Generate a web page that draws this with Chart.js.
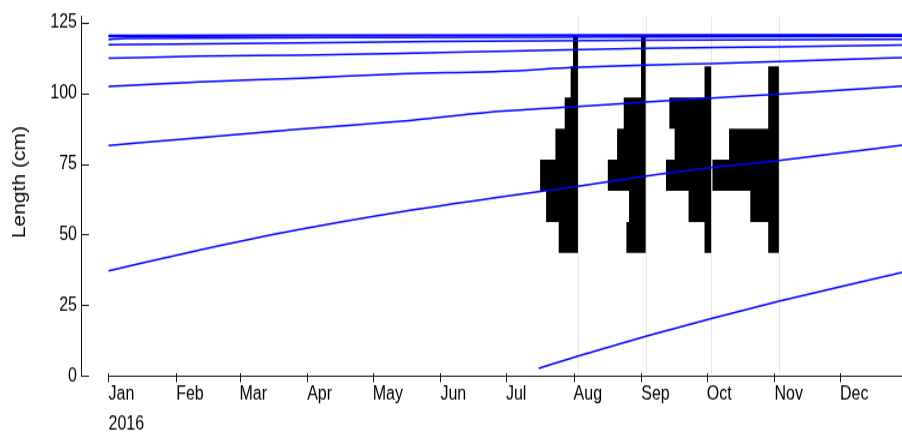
<!DOCTYPE html>
<html>
<head>
<meta charset="utf-8">
<script src="https://cdn.jsdelivr.net/npm/chart.js@4/dist/chart.umd.min.js"></script>
<style>
html,body{margin:0;padding:0;background:#fff;width:902px;height:432px;overflow:hidden;}
#outer{width:902px;height:432px;position:relative;}
#wrap{position:absolute;left:0;top:0;width:902px;height:360px;transform:scale(1,1.2);transform-origin:0 0;}
canvas{display:block;}
</style>
</head>
<body>
<div id="outer"><div id="wrap"><canvas id="c" width="902" height="360"></canvas></div></div>
<script>
// ---- data (x = days since 1 Jan 2016) ----
const monthLabels = ['Jan','Feb','Mar','Apr','May','Jun','Jul','Aug','Sep','Oct','Nov','Dec'];
const monthStartDays = [0,31,60,91,121,152,182,213,244,274,305,335];
const yearLabel = '2016';
const yTicks = [0,25,50,75,100,125];
const yTitle = 'Length (cm)';

// length-frequency samples (relative frequency per length class)
const lengthClassMids = [49,60,71,82,93,104,115];
const classWidth = 11;
const sampleDays = [215,246,276,307]; // 3 Aug, 3 Sep, 3 Oct, 3 Nov 2016
const freqAug = [0.29,0.48,0.57,0.34,0.20,0.11,0.075];
const freqSep = [0.29,0.25,0.57,0.43,0.33,0.07,0.07];
const freqOct = [0.10,0.34,0.68,0.55,0.63,0.10,0];
const freqNov = [0.16,0.43,1.00,0.75,0.16,0.16,0];

// growth curves: [day, length]
const growth1 = [[197,2.7],[215,7.0],[246,14.0],[276,20.3],[307,26.4],[364,36.7]];
const growth2 = [[0,37.2],[42,44.6],[88,51.9],[134,58.1],[179,63.3],[215,67.1],[246,70.7],[276,73.7],[307,76.2],[364,81.7]];
const growth3 = [[0,81.5],[42,84.3],[88,87.3],[134,90.1],[179,93.6],[215,95.3],[246,96.9],[276,98.3],[307,99.7],[364,102.5]];
const growth4 = [[0,102.4],[42,104.0],[88,105.3],[134,106.9],[179,107.7],[215,109.2],[246,110.0],[276,110.5],[307,111.2],[364,112.6]];
const growth5 = [[0,112.4],[42,113.1],[88,113.5],[134,114.1],[179,114.8],[246,115.9],[307,116.4],[364,117.1]];
const growth6 = [[0,117.2],[88,117.8],[150,118.3],[246,118.8],[364,119.1]];
const growth7 = [[0,119.0],[8,119.4],[120,119.7],[250,119.9],[364,120.1]];
const growth8 = [[0,120.0],[91,120.3],[213,120.45],[364,120.55]];
const growth9 = [[0,120.5],[182,120.6],[364,120.7]];

// ---- style ----
const barSpanDays = 30.4;   // width (days) of a bar with relative frequency 1
const TXT = '#000000';
const AX = '#111111';
const FONT = "'Liberation Sans', Arial, sans-serif";

function histPolygon(day, freq) {
  const pts = [];
  const lo = lengthClassMids[0] - classWidth / 2;
  pts.push({x: day, y: lo});
  freq.forEach((f, i) => {
    const a = lengthClassMids[i] - classWidth / 2;
    const b = lengthClassMids[i] + classWidth / 2;
    pts.push({x: day - f * barSpanDays, y: a});
    pts.push({x: day - f * barSpanDays, y: b});
  });
  pts.push({x: day, y: lengthClassMids[lengthClassMids.length - 1] + classWidth / 2});
  return pts;
}

const samples = [freqAug, freqSep, freqOct, freqNov];
const histSets = samples.map((f, i) => ({
  type: 'line',
  data: histPolygon(sampleDays[i], f),
  showLine: false,
  borderWidth: 0,
  borderColor: 'rgba(0,0,0,0)',
  backgroundColor: '#000000',
  fill: 'shape',
  pointRadius: 0,
  tension: 0,
  order: 2
}));

const curves = [growth1, growth2, growth3, growth4, growth5, growth6, growth7, growth8, growth9];
const curveSets = curves.map(c => ({
  type: 'line',
  data: c.map(p => ({x: p[0], y: p[1]})),
  borderColor: '#0000ff',
  borderWidth: 1.5,
  pointRadius: 0,
  fill: false,
  cubicInterpolationMode: 'monotone',
  order: 1
}));

const axisPlugin = {
  id: 'axisPlugin',
  beforeDatasetsDraw(chart) {
    const {ctx, chartArea, scales: {x}} = chart;
    ctx.save();
    ctx.strokeStyle = '#e8e8e8';
    ctx.lineWidth = 1;
    sampleDays.forEach(d => {
      const px = Math.round(x.getPixelForValue(d)) + 0.5;
      ctx.beginPath();
      ctx.moveTo(px, chartArea.top);
      ctx.lineTo(px, chartArea.bottom - 2);
      ctx.stroke();
    });
    ctx.restore();
  },
  afterDraw(chart) {
    const {ctx, chartArea, scales: {x, y}} = chart;
    ctx.save();
    ctx.strokeStyle = AX;
    ctx.lineWidth = 1;
    const y0 = Math.round(y.getPixelForValue(0)) + 0.5;
    // x axis line from first month to right edge
    ctx.beginPath();
    ctx.moveTo(x.getPixelForValue(monthStartDays[0]), y0);
    ctx.lineTo(chartArea.right, y0);
    ctx.stroke();
    // x tick marks
    monthStartDays.forEach(d => {
      const px = Math.round(x.getPixelForValue(d)) + 0.5;
      ctx.beginPath();
      ctx.moveTo(px, y0 - 2.5);
      ctx.lineTo(px, y0 + 5);
      ctx.stroke();
    });
    // y tick marks (inward)
    yTicks.forEach(v => {
      const py = Math.round(y.getPixelForValue(v)) + 0.5;
      ctx.beginPath();
      ctx.moveTo(chartArea.left, py);
      ctx.lineTo(chartArea.left + 8, py);
      ctx.stroke();
    });
    // y axis title
    ctx.fillStyle = TXT;
    ctx.font = "17.5px " + FONT;
    ctx.textAlign = 'center';
    ctx.textBaseline = 'middle';
    ctx.translate(20.5, 151.7);
    ctx.rotate(-Math.PI / 2);
    ctx.fillText(yTitle, 0, 0);
    ctx.restore();
  }
};

new Chart(document.getElementById('c'), {
  type: 'line',
  data: {datasets: [...curveSets, ...histSets]},
  plugins: [axisPlugin],
  options: {
    responsive: false,
    animation: false,
    devicePixelRatio: 1,
    layout: {padding: {top: 11.7, left: 0, right: 0, bottom: 0}},
    plugins: {legend: {display: false}, tooltip: {enabled: false}, title: {display: false}},
    scales: {
      x: {
        type: 'linear',
        min: -12.59,
        max: 363.4,
        bounds: 'data',
        grid: {display: false, drawTicks: false},
        border: {display: false},
        afterBuildTicks: s => { s.ticks = monthStartDays.map(v => ({value: v})); },
        afterFit: s => { s.height = 46.7; },
        ticks: {
          autoSkip: false,
          maxRotation: 0,
          minRotation: 0,
          align: 'start',
          padding: 2,
          color: TXT,
          font: {family: FONT, size: 16, lineHeight: 1.6},
          callback: (v) => {
            const i = monthStartDays.indexOf(v);
            return i === 0 ? [monthLabels[0], yearLabel] : monthLabels[i];
          }
        }
      },
      y: {
        type: 'linear',
        min: 0,
        max: 127.2,
        bounds: 'data',
        grid: {display: false, drawTicks: false},
        border: {display: true, color: AX, width: 1},
        afterBuildTicks: s => { s.ticks = yTicks.map(v => ({value: v})); },
        afterFit: s => { s.width = 81; },
        ticks: {
          padding: 4,
          color: TXT,
          font: {family: FONT, size: 16},
          callback: v => String(v)
        }
      }
    }
  }
});
</script>
</body>
</html>
